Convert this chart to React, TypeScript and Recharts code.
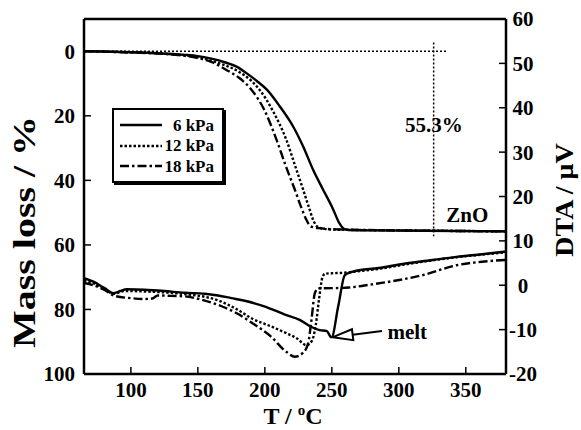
import {
  LineChart,
  Line,
  XAxis,
  YAxis,
  Legend,
  Label,
  ReferenceLine,
  ReferenceDot,
} from 'recharts'

// TG curves: [T / °C, mass loss / %]
const tg6kPa = [
  [65, 0], [100, 0.3], [120, 0.6], [140, 1.1], [150, 1.5], [160, 2.3], [170, 3.4],
  [180, 5], [186, 6.7], [194, 9.2], [201.5, 11.9], [211.2, 17.1], [221.1, 23.3],
  [228.6, 29.5], [236, 36.7], [243.5, 42.9], [251, 49], [255.5, 53.2], [259, 55],
  [263, 55.4], [280, 55.5], [320, 55.6], [380, 55.8],
]
const tg12kPa = [
  [65, 0], [100, 0.3], [130, 0.9], [150, 1.8], [165, 3.6], [180, 6.2], [190, 9.2],
  [196, 11.9], [206, 18.5], [216, 27.4], [223, 36], [228.6, 42.9], [233, 48.5],
  [236, 52.2], [239, 54.3], [244, 55], [255, 55.3], [300, 55.5], [380, 55.8],
]
const tg18kPa = [
  [65, 0], [100, 0.4], [130, 1], [150, 2.1], [160, 3.3], [171, 5.7], [181, 8.3],
  [190, 11.9], [200, 18.5], [208.7, 27.4], [216, 36], [222.4, 42.9], [227, 48.2],
  [231, 52.2], [234, 54.2], [240, 54.8], [255, 55.2], [300, 55.5], [380, 55.8],
]

// DTA curves: [T / °C, DTA / µV]
const dta6kPa = [
  [65, 1.6], [72, 0.8], [80, -0.6], [87, -1.8], [92, -1.3], [97, -0.9], [110, -1.0],
  [125, -1.3], [140, -1.7], [155, -1.9], [165, -2.3], [175, -2.9], [185, -3.5],
  [199, -4.7], [215, -6.6], [226, -7.8], [234, -9.3], [241, -10.1], [246, -10.3],
  [249.8, -11.7], [254.8, -4.7], [259.7, 2.3], [265, 3.0], [285, 3.9], [305, 4.9],
  [325, 5.7], [343, 6.4], [362, 7.0], [380, 7.6],
]
const dta12kPa = [
  [65, 1.0], [72, 0.4], [80, -0.8], [87, -1.9], [95, -1.3], [110, -1.4], [125, -1.6],
  [140, -2.0], [155, -2.6], [165, -3.4], [179, -5.4], [191, -7.6], [204, -9.2],
  [216, -10.8], [224, -12], [231, -13.5], [235, -12.6], [238, -9], [240.5, -3],
  [243, 1.8], [245, 2.6], [250, 2.7], [258, 2.8], [265, 3.0], [285, 3.7], [305, 4.7],
  [325, 5.6], [343, 6.3], [362, 6.9], [380, 7.4],
]
const dta18kPa = [
  [65, 0.5], [72, 0], [80, -1.0], [88, -2.4], [100, -2.9], [110, -3.1], [116, -3.0],
  [120, -2.3], [130, -2.4], [140, -2.5], [152, -3.2], [160, -3.9], [169, -4.9],
  [179, -6.3], [191, -8.6], [204, -11.4], [216, -15], [222.4, -16.1], [228.6, -15.2],
  [232.3, -13.1], [234.8, -7.8], [237.3, -1.8], [240, -0.7], [258, -0.6], [263, -0.5],
  [280, 0.2], [293, 0.8], [318, 2.3], [343, 4.5], [362, 5.3], [380, 5.7],
]

const tempTicks = [100, 150, 200, 250, 300, 350]
const massTicks = [0, 20, 40, 60, 80, 100]
const dtaTicks = [-20, -10, 0, 10, 20, 30, 40, 50, 60]

// annotations
const meltArrow = [[250.7, -11.7], [287.5, -10.3]]
const residueLine = [[65, 0], [335.6, 0]]
const residueDrop = [[326, -2.7], [326, 57.3]]

const series = [
  { name: '6 kPa', key: 'p6', tg: tg6kPa, dta: dta6kPa, dash: undefined },
  { name: '12 kPa', key: 'p12', tg: tg12kPa, dta: dta12kPa, dash: '2.5 2' },
  { name: '18 kPa', key: 'p18', tg: tg18kPa, dta: dta18kPa, dash: '9 3 2.5 3' },
]

const FONT = '"Liberation Serif", "Times New Roman", serif'

const toRows = (pts: number[][], key: string) =>
  pts.map(([t, v]) => ({ t, [key]: v }))

const MeltArrow = (p: any) => {
  const { x1, y1, x2, y2 } = p
  const a = Math.atan2(y2 - y1, x2 - x1)
  const bx = x1 + Math.cos(a) * 20
  const by = y1 + Math.sin(a) * 20
  const nx = -Math.sin(a) * 5.5
  const ny = Math.cos(a) * 5.5
  return (
    <g>
      <line x1={bx} y1={by} x2={x2} y2={y2} stroke="#000" strokeWidth={2} />
      <polygon
        points={`${x1},${y1} ${bx + nx},${by + ny} ${bx - nx},${by - ny}`}
        fill="#fff"
        stroke="#000"
        strokeWidth={2}
      />
    </g>
  )
}

const RightTick = ({ x, y, payload }: any) => (
  <text x={x} y={y} dy="0.355em" textAnchor="middle" fontFamily={FONT} fontWeight="bold" fontSize={21} fill="#000">
    {payload.value}
  </text>
)

const renderLegend = () => (
  <div
    style={{
      width: 112,
      height: 75,
      border: '2px solid #000',
      boxShadow: '2px 2px 0 #000',
      boxSizing: 'border-box',
      background: '#fff',
      paddingTop: 5,
      fontFamily: FONT,
      fontWeight: 'bold',
      fontSize: 17,
    }}
  >
    {series.map((s) => (
      <div key={s.key} style={{ display: 'flex', alignItems: 'center', height: 20.5, paddingLeft: 6 }}>
        <svg width={42} height={6}>
          <line x1={0} y1={3} x2={42} y2={3} stroke="#000" strokeWidth={2.5} strokeDasharray={s.dash} />
        </svg>
        <span style={{ width: 52, textAlign: 'right', lineHeight: 1 }}>{s.name}</span>
      </div>
    ))}
  </div>
)

const axisLine = { stroke: '#000', strokeWidth: 2.5 }
const tickLine = { stroke: '#000', strokeWidth: 1.5 }
const tickFont = { fontFamily: FONT, fontWeight: 'bold', fontSize: 21, fill: '#000' }
const annot = { fontFamily: FONT, fontWeight: 'bold', fill: '#000' }

export default function App() {
  return (
    <div style={{ position: 'absolute', left: 0, top: 0, background: '#fff' }}>
      <LineChart width={581} height={430} margin={{ top: 0, right: 0, bottom: 0, left: 0 }}>
        <XAxis
          xAxisId={0}
          dataKey="t"
          type="number"
          domain={[65, 380]}
          allowDataOverflow
          ticks={tempTicks}
          height={56}
          axisLine={axisLine}
          tickLine={tickLine}
          tickSize={-7}
          tickMargin={15}
          tick={tickFont}
        >
          <Label
            content={({ viewBox }: any) => (
              <text
                x={viewBox.x + viewBox.width / 2 - 2}
                y={viewBox.y + 50}
                textAnchor="middle"
                fontFamily={FONT}
                fontWeight="bold"
                fontSize={24}
                fill="#000"
              >
                T /{' '}
                <tspan dy={-9.5} fontSize={15}>o</tspan>
                <tspan dy={9.5}>C</tspan>
              </text>
            )}
          />
        </XAxis>
        <XAxis
          xAxisId="top"
          orientation="top"
          type="number"
          domain={[65, 380]}
          allowDataOverflow
          ticks={tempTicks}
          height={19}
          axisLine={axisLine}
          tickLine={tickLine}
          tickSize={-7}
          tickFormatter={() => ''}
        />
        <YAxis
          yAxisId="mass"
          orientation="left"
          type="number"
          reversed
          domain={[-10, 100]}
          allowDataOverflow
          ticks={massTicks}
          width={84}
          axisLine={axisLine}
          tickLine={tickLine}
          tickSize={-7}
          tickMargin={16}
          tick={tickFont}
        >
          <Label
            content={() => (
              <text
                transform="translate(35,232) rotate(-90) scale(1.25,1)"
                textAnchor="middle"
                fontFamily={FONT}
                fontWeight="bold"
                fontSize={32}
                fill="#000"
              >
                Mass loss / %
              </text>
            )}
          />
        </YAxis>
        <YAxis
          yAxisId="dta"
          orientation="right"
          type="number"
          domain={[-20, 60]}
          allowDataOverflow
          ticks={dtaTicks}
          width={75}
          axisLine={axisLine}
          tickLine={tickLine}
          tickSize={-7}
          tickMargin={24}
          tick={<RightTick />}
        >
          <Label
            content={() => (
              <text
                transform="translate(573,200) rotate(-90) scale(1.12,1)"
                textAnchor="middle"
                fontFamily={FONT}
                fontWeight="bold"
                fontSize={25}
                fill="#000"
              >
                DTA / μV
              </text>
            )}
          />
        </YAxis>

        <ReferenceLine
          yAxisId="mass"
          segment={residueLine.map(([x, y]) => ({ x, y }))}
          stroke="#000"
          strokeWidth={1.5}
          strokeDasharray="2 2"
        />
        <ReferenceLine
          yAxisId="mass"
          segment={residueDrop.map(([x, y]) => ({ x, y }))}
          stroke="#000"
          strokeWidth={1.5}
          strokeDasharray="2 2"
        />

        {series.map((s) => (
          <Line
            key={'tg' + s.key}
            data={toRows(s.tg, 'tg' + s.key)}
            dataKey={'tg' + s.key}
            name={s.name}
            yAxisId="mass"
            type="monotone"
            stroke="#000"
            strokeWidth={2.4}
            strokeDasharray={s.dash}
            dot={false}
            activeDot={false}
            isAnimationActive={false}
          />
        ))}
        {series.map((s) => (
          <Line
            key={'dta' + s.key}
            data={toRows(s.dta, 'dta' + s.key)}
            dataKey={'dta' + s.key}
            name={s.name + ' DTA'}
            yAxisId="dta"
            type="monotone"
            stroke="#000"
            strokeWidth={2.4}
            strokeDasharray={s.dash}
            dot={false}
            activeDot={false}
            legendType="none"
            isAnimationActive={false}
          />
        ))}

        <ReferenceLine
          yAxisId="dta"
          segment={meltArrow.map(([x, y]) => ({ x, y }))}
          shape={MeltArrow}
        />
        <ReferenceDot yAxisId="dta" x={306.3} y={-10.5} r={0} fill="none" stroke="none"
          label={{ value: 'melt', position: 'center', fontSize: 21, ...annot }} />
        <ReferenceDot yAxisId="mass" x={326.1} y={22.8} r={0} fill="none" stroke="none"
          label={{ value: '55.3%', position: 'center', fontSize: 21, ...annot }} />
        <ReferenceDot yAxisId="mass" x={351.1} y={50.5} r={0} fill="none" stroke="none"
          label={{ value: 'ZnO', position: 'center', fontSize: 21, ...annot }} />

        <Legend
          layout="horizontal"
          verticalAlign="middle"
          align="center"
          content={renderLegend}
          wrapperStyle={{ left: 112, top: 108, width: 112, height: 75 }}
        />
      </LineChart>
    </div>
  )
}
